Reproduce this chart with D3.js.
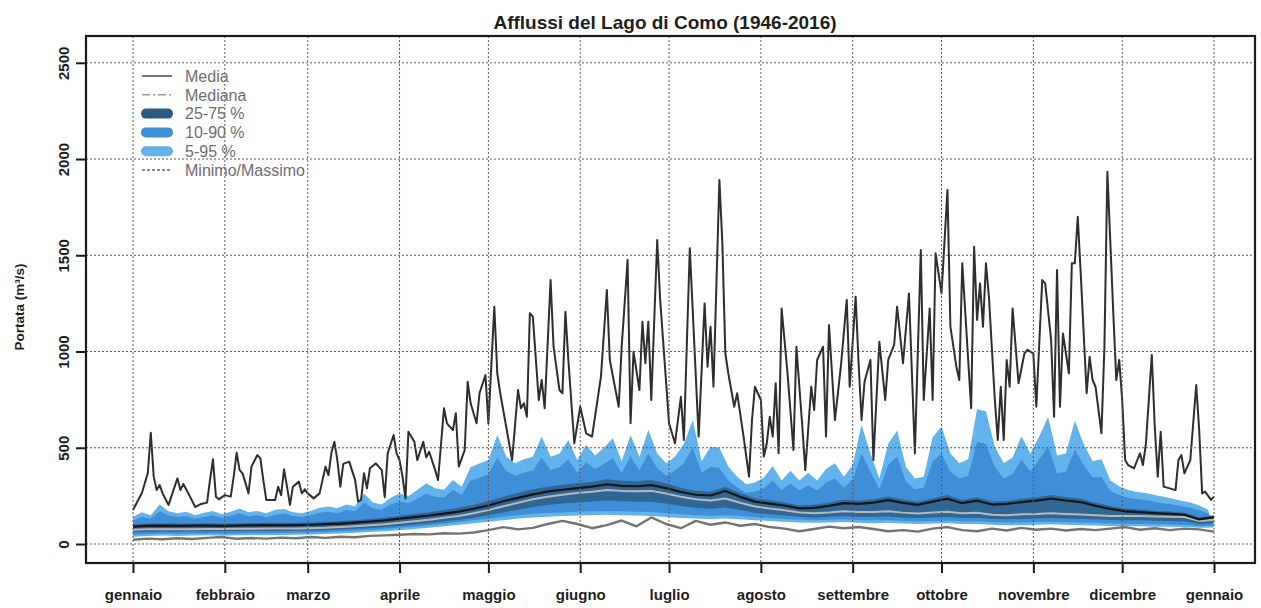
<!DOCTYPE html>
<html>
<head>
<meta charset="utf-8">
<script src="https://cdn.jsdelivr.net/npm/d3@7"></script>
<style>
  html, body { margin: 0; padding: 0; background: #fff; }
  svg { display: block; font-family: "Liberation Sans", Arial, Helvetica, sans-serif; }
</style>
</head>
<body>
<svg id="chart" width="1261" height="608"></svg>
<script>
// Afflussi giornalieri del Lago di Como, statistiche 1946-2016 (m³/s)

const title = "Afflussi del Lago di Como (1946-2016)";
const yTitle = "Portata (m³/s)";

// Month labels and the day of year where each month starts
const monthLabels = ["gennaio", "febbraio", "marzo", "aprile", "maggio", "giugno",
  "luglio", "agosto", "settembre", "ottobre", "novembre", "dicembre", "gennaio"];
const monthDays = [1, 32, 60, 91, 121, 152, 182, 213, 244, 274, 305, 335, 366];

const yTicks = [0, 500, 1000, 1500, 2000, 2500];

// Daily maximum (day of year, value)
const maxDays = [1, 4, 6, 7, 8, 9, 10, 11, 13, 16, 17, 18, 20, 22, 24, 26, 27, 28, 29, 30, 32, 34, 35, 36, 37, 38, 40, 41, 43, 44, 45, 46, 49, 50, 51, 52, 53, 54, 55, 57, 58, 59, 60, 62, 64, 66, 67, 68, 69, 70, 71, 72, 74, 76, 77, 78, 79, 80, 81, 83, 85, 86, 87, 89, 90, 91, 92, 93, 94, 96, 97, 99, 100, 101, 103, 104, 106, 107, 109, 110, 111, 113, 114, 115, 117, 118, 120, 121, 123, 124, 125, 128, 129, 131, 132, 133, 134, 135, 136, 138, 139, 140, 142, 143, 145, 146, 147, 148, 150, 152, 154, 156, 159, 161, 162, 165, 166, 168, 169, 170, 172, 173, 174, 175, 176, 178, 179, 182, 184, 186, 187, 189, 192, 194, 195, 196, 197, 199, 200, 201, 202, 204, 205, 207, 209, 210, 211, 213, 214, 215, 216, 217, 218, 219, 220, 222, 224, 225, 227, 228, 230, 231, 232, 234, 235, 236, 238, 240, 242, 243, 245, 246, 247, 248, 250, 251, 253, 255, 256, 258, 259, 261, 263, 265, 267, 268, 270, 271, 272, 274, 276, 277, 279, 280, 281, 284, 285, 286, 287, 288, 289, 290, 292, 293, 294, 295, 296, 297, 298, 300, 302, 303, 305, 306, 308, 309, 311, 312, 313, 314, 315, 317, 318, 319, 320, 321, 323, 324, 325, 326, 328, 329, 330, 332, 333, 334, 335, 336, 337, 339, 341, 342, 343, 345, 346, 347, 348, 349, 351, 353, 354, 355, 356, 358, 360, 361, 362, 363, 365, 366];
const maxValues = [177, 265, 369, 578, 350, 280, 306, 263, 203, 341, 280, 312, 254, 192, 208, 215, 332, 440, 246, 232, 254, 246, 350, 474, 384, 367, 263, 402, 462, 445, 332, 229, 229, 298, 254, 388, 298, 203, 298, 324, 263, 284, 263, 237, 263, 402, 358, 474, 531, 436, 298, 416, 428, 332, 220, 229, 367, 289, 393, 419, 384, 243, 471, 566, 471, 436, 350, 237, 583, 531, 436, 531, 450, 479, 385, 332, 705, 627, 592, 679, 402, 488, 843, 731, 627, 783, 878, 627, 1233, 887, 783, 523, 436, 800, 705, 731, 661, 1199, 1181, 748, 852, 705, 1371, 1025, 800, 783, 1207, 956, 523, 713, 575, 558, 869, 1319, 956, 713, 1025, 1475, 627, 999, 800, 1155, 939, 1155, 748, 1579, 1268, 627, 523, 765, 540, 1536, 558, 1250, 921, 1129, 817, 1891, 1562, 991, 887, 713, 783, 575, 350, 644, 817, 748, 454, 523, 661, 558, 835, 471, 1224, 887, 488, 1025, 609, 384, 817, 696, 956, 1025, 558, 1138, 644, 921, 1268, 817, 1285, 939, 644, 843, 956, 436, 1051, 748, 956, 1034, 1233, 939, 1302, 471, 1527, 748, 1224, 748, 1510, 1302, 1839, 1129, 921, 852, 1458, 705, 1544, 1164, 1354, 1129, 1458, 1285, 748, 540, 817, 540, 956, 817, 1224, 835, 991, 1008, 991, 713, 1371, 1354, 1060, 661, 1423, 713, 1094, 887, 1458, 1458, 1700, 1406, 783, 973, 852, 817, 575, 1025, 1934, 1199, 852, 956, 748, 436, 410, 393, 471, 410, 520, 982, 609, 350, 583, 298, 289, 280, 436, 462, 367, 436, 826, 592, 263, 272, 229, 246];

// Statistics every 5 days (days 1, 6, ..., 366)
const statDays = d3.range(1, 367, 5);
const meanValues = [90, 94, 95, 94, 95, 96, 94, 95, 97, 98, 97, 98, 100, 103, 106, 111, 117, 123, 132, 140, 148, 158, 168, 183, 200, 222, 240, 258, 272, 282, 290, 298, 310, 302, 300, 306, 290, 270, 256, 252, 275, 245, 220, 210, 200, 185, 188, 198, 212, 208, 215, 228, 214, 203, 220, 235, 212, 225, 205, 208, 218, 225, 236, 226, 218, 198, 182, 170, 166, 160, 157, 152, 128, 140];
const medianValues = [74, 76, 77, 77, 77, 78, 78, 79, 79, 80, 80, 81, 82, 84, 88, 92, 97, 103, 110, 118, 126, 136, 146, 160, 176, 196, 214, 232, 246, 256, 265, 272, 280, 276, 274, 276, 262, 245, 232, 226, 236, 214, 195, 184, 175, 164, 160, 164, 170, 166, 166, 170, 163, 158, 164, 168, 160, 162, 152, 150, 154, 156, 160, 156, 153, 150, 146, 145, 145, 143, 142, 140, 120, 126];
const p25Values = [62, 64, 65, 65, 66, 66, 66, 67, 67, 68, 68, 69, 70, 72, 75, 79, 83, 88, 94, 101, 108, 117, 126, 137, 150, 164, 178, 192, 202, 210, 216, 221, 226, 222, 220, 220, 210, 198, 188, 183, 190, 176, 163, 155, 148, 141, 138, 141, 145, 142, 141, 143, 138, 135, 138, 141, 135, 136, 130, 128, 130, 132, 135, 132, 130, 128, 125, 124, 123, 121, 120, 118, 104, 108];
const p75Values = [101, 106, 107, 106, 107, 108, 106, 107, 109, 110, 109, 110, 112, 115, 119, 124, 130, 137, 147, 156, 165, 176, 188, 204, 222, 245, 265, 284, 298, 308, 316, 324, 336, 328, 326, 332, 314, 292, 277, 272, 296, 265, 238, 227, 216, 200, 204, 215, 230, 225, 233, 247, 231, 219, 237, 254, 229, 243, 221, 224, 235, 243, 255, 244, 235, 214, 197, 184, 179, 172, 169, 163, 138, 150];
const p10Values = [48, 52, 54, 53, 54, 55, 54, 55, 56, 56, 57, 58, 60, 62, 65, 69, 73, 78, 84, 90, 97, 105, 114, 123, 132, 141, 150, 157, 161, 164, 167, 170, 172, 170, 168, 166, 160, 154, 150, 147, 150, 145, 140, 135, 130, 126, 124, 126, 128, 125, 123, 125, 120, 118, 120, 122, 118, 118, 114, 112, 112, 114, 116, 114, 112, 110, 107, 105, 104, 102, 101, 99, 94, 96];
const p5Values = [38, 42, 44, 42, 44, 45, 43, 45, 46, 45, 47, 48, 50, 52, 55, 58, 62, 66, 72, 78, 84, 92, 100, 108, 116, 124, 132, 138, 142, 145, 148, 150, 152, 150, 148, 146, 140, 135, 132, 130, 132, 128, 124, 120, 116, 112, 110, 112, 114, 110, 108, 110, 106, 104, 106, 108, 104, 104, 100, 98, 98, 100, 102, 100, 98, 96, 94, 92, 92, 90, 90, 88, 84, 86];
const minValues = [22, 28, 25, 30, 26, 32, 36, 27, 31, 28, 33, 30, 36, 32, 38, 35, 42, 45, 48, 52, 50, 56, 54, 60, 72, 88, 76, 84, 104, 120, 104, 82, 98, 122, 92, 138, 104, 82, 120, 100, 112, 95, 104, 88, 80, 66, 78, 90, 82, 88, 78, 66, 72, 64, 80, 88, 72, 66, 80, 70, 84, 74, 80, 70, 78, 72, 80, 88, 74, 82, 72, 80, 76, 64];

// Upper percentiles every 3 days (days 1, 4, ..., 364)
const upperDays = d3.range(1, 365, 3);
const p90Values = [122, 140, 132, 170, 148, 140, 146, 132, 140, 150, 136, 145, 160, 144, 150, 140, 152, 158, 145, 140, 150, 162, 168, 160, 176, 170, 215, 185, 178, 205, 220, 212, 235, 262, 245, 240, 280, 255, 330, 345, 362, 450, 380, 355, 372, 382, 450, 385, 398, 440, 372, 425, 390, 415, 445, 368, 455, 385, 470, 395, 355, 380, 420, 500, 370, 400, 395, 330, 295, 265, 272, 290, 330, 280, 315, 278, 305, 278, 320, 340, 292, 335, 470, 375, 285, 410, 455, 325, 285, 292, 430, 470, 375, 340, 355, 530, 520, 400, 340, 362, 440, 375, 440, 505, 368, 375, 490, 410, 345, 350, 275, 255, 240, 232, 228, 220, 212, 205, 196, 188, 175, 158];
const p95Values = [140, 165, 150, 205, 170, 160, 168, 150, 162, 172, 155, 168, 185, 165, 172, 160, 178, 182, 165, 160, 172, 188, 195, 186, 205, 196, 262, 215, 205, 240, 262, 250, 280, 315, 290, 282, 332, 298, 400, 418, 436, 566, 455, 420, 440, 453, 558, 453, 470, 540, 436, 515, 460, 500, 549, 430, 566, 453, 592, 470, 419, 453, 520, 644, 430, 505, 500, 402, 350, 310, 320, 345, 405, 330, 380, 330, 370, 330, 390, 420, 350, 410, 620, 470, 340, 520, 590, 400, 340, 350, 555, 609, 470, 420, 440, 700, 690, 505, 420, 450, 560, 470, 560, 660, 460, 470, 640, 520, 430, 440, 330, 300, 280, 270, 265, 255, 245, 235, 225, 215, 200, 178];

// Legend entries
const legendLabels = ["Media", "Mediana", "25-75 %", "10-90 %", "5-95 %", "Minimo/Massimo"];

// ---------------------------------------------------------------------------
const svg = d3.select("#chart");
const frame = { left: 86, right: 1255, top: 36, bottom: 563 };

const x = d3.scaleLinear().domain([1, 366]).range([133, 1214]);
const y = d3.scaleLinear().domain([0, 2500]).range([544, 62.8]);

const colors = {
  band95: "#62b2ec",
  band90: "#3f8fd8",
  band75: "#2c5b82",
  mean: "#161616",
  median: "#b8b8b8",
  max: "#2e2e2e",
  min: "#737373",
  grid: "#5a5a5a",
  legendText: "#6e6e6e"
};

// Band polygon: upper edge left to right, lower edge back
function bandPath(topDays, topVals, botDays, botVals) {
  const pts = topDays.map((d, i) => [x(d), y(topVals[i])])
    .concat(botDays.map((d, i) => [x(d), y(botVals[i])]).reverse());
  return d3.line()(pts) + "Z";
}

const plot = svg.append("g");

plot.append("path")
  .attr("d", bandPath(upperDays, p95Values, statDays, p5Values))
  .attr("fill", colors.band95);
plot.append("path")
  .attr("d", bandPath(upperDays, p90Values, statDays, p10Values))
  .attr("fill", colors.band90);
plot.append("path")
  .attr("d", bandPath(statDays, p75Values, statDays, p25Values))
  .attr("fill", colors.band75)
  .attr("fill-opacity", 0.8);

// Grid
const grid = svg.append("g")
  .attr("stroke", colors.grid)
  .attr("stroke-width", 1)
  .attr("stroke-dasharray", "2,2");
grid.selectAll("line.h").data(yTicks).join("line")
  .attr("x1", frame.left).attr("x2", frame.right)
  .attr("y1", d => y(d)).attr("y2", d => y(d));
grid.selectAll("line.v").data(monthDays).join("line")
  .attr("x1", d => x(d)).attr("x2", d => x(d))
  .attr("y1", frame.top).attr("y2", frame.bottom);

// Lines
const statLine = vals => d3.line()(statDays.map((d, i) => [x(d), y(vals[i])]));

plot.append("path").attr("d", statLine(minValues))
  .attr("fill", "none").attr("stroke", colors.min).attr("stroke-width", 2.4)
  .attr("stroke-linejoin", "round");
plot.append("path").attr("d", statLine(medianValues))
  .attr("fill", "none").attr("stroke", colors.median).attr("stroke-width", 2)
  .attr("stroke-linejoin", "round");
plot.append("path").attr("d", statLine(meanValues))
  .attr("fill", "none").attr("stroke", colors.mean).attr("stroke-width", 2.2)
  .attr("stroke-linejoin", "round");
plot.append("path")
  .attr("d", d3.line()(maxDays.map((d, i) => [x(d), y(maxValues[i])])))
  .attr("fill", "none").attr("stroke", colors.max).attr("stroke-width", 2)
  .attr("stroke-linejoin", "round");

// Frame
svg.append("rect")
  .attr("x", frame.left).attr("y", frame.top)
  .attr("width", frame.right - frame.left).attr("height", frame.bottom - frame.top)
  .attr("fill", "none").attr("stroke", "#1a1a1a").attr("stroke-width", 2.2);

// Axis ticks and labels
const xAxis = d3.axisBottom(x).tickValues(monthDays)
  .tickFormat((d, i) => monthLabels[i]).tickSize(10).tickPadding(16);
svg.append("g").attr("transform", `translate(0,${frame.bottom})`).call(xAxis)
  .call(g => g.select(".domain").remove())
  .call(g => g.selectAll(".tick line").attr("stroke", "#1a1a1a").attr("stroke-width", 2))
  .call(g => g.selectAll(".tick text")
    .attr("fill", "#1e1e1e").attr("font-size", 15).attr("font-weight", "bold")
    .attr("font-family", "'Liberation Sans', Arial, sans-serif"));

const yAxis = d3.axisLeft(y).tickValues(yTicks).tickSize(10).tickFormat(d3.format("d"));
svg.append("g").attr("transform", `translate(${frame.left},0)`).call(yAxis)
  .call(g => g.select(".domain").remove())
  .call(g => g.selectAll(".tick line").attr("stroke", "#1a1a1a").attr("stroke-width", 2))
  .call(g => g.selectAll(".tick text")
    .attr("x", null).attr("dy", null)
    .attr("transform", "translate(-17,0) rotate(-90)")
    .attr("text-anchor", "middle")
    .attr("fill", "#1e1e1e").attr("font-size", 15).attr("font-weight", "bold")
    .attr("font-family", "'Liberation Sans', Arial, sans-serif"));

// Titles
svg.append("text")
  .attr("x", 665).attr("y", 29)
  .attr("text-anchor", "middle")
  .attr("font-size", 19).attr("font-weight", "bold").attr("fill", "#1e1e1e")
  .text(title);

svg.append("text")
  .attr("transform", "translate(24,307) rotate(-90)")
  .attr("text-anchor", "middle")
  .attr("font-size", 13.5).attr("font-weight", "bold").attr("fill", "#1e1e1e")
  .text(yTitle);

// Legend
const legend = svg.append("g").attr("transform", "translate(142,76)");
const legendStyles = [
  { stroke: "#555", width: 1.6, dash: null, cap: "butt" },
  { stroke: "#9a9a9a", width: 1.4, dash: "8,3,2,3", cap: "butt" },
  { stroke: colors.band75, width: 10, dash: null, cap: "round" },
  { stroke: colors.band90, width: 10, dash: null, cap: "round" },
  { stroke: colors.band95, width: 10, dash: null, cap: "round" },
  { stroke: "#666", width: 1.4, dash: "3,2", cap: "butt" }
];
const rows = legend.selectAll("g").data(legendLabels).join("g")
  .attr("transform", (d, i) => `translate(0,${i * 18.8})`);
rows.append("line")
  .attr("x1", (d, i) => legendStyles[i].cap === "round" ? 4 : 0)
  .attr("x2", (d, i) => legendStyles[i].cap === "round" ? 26 : 30)
  .attr("y1", 0).attr("y2", 0)
  .attr("stroke", (d, i) => legendStyles[i].stroke)
  .attr("stroke-width", (d, i) => legendStyles[i].width)
  .attr("stroke-dasharray", (d, i) => legendStyles[i].dash)
  .attr("stroke-linecap", (d, i) => legendStyles[i].cap);
rows.append("text")
  .attr("x", 43).attr("y", 0).attr("dy", "0.36em")
  .attr("font-size", 16).attr("fill", colors.legendText)
  .text(d => d);
</script>
</body>
</html>
